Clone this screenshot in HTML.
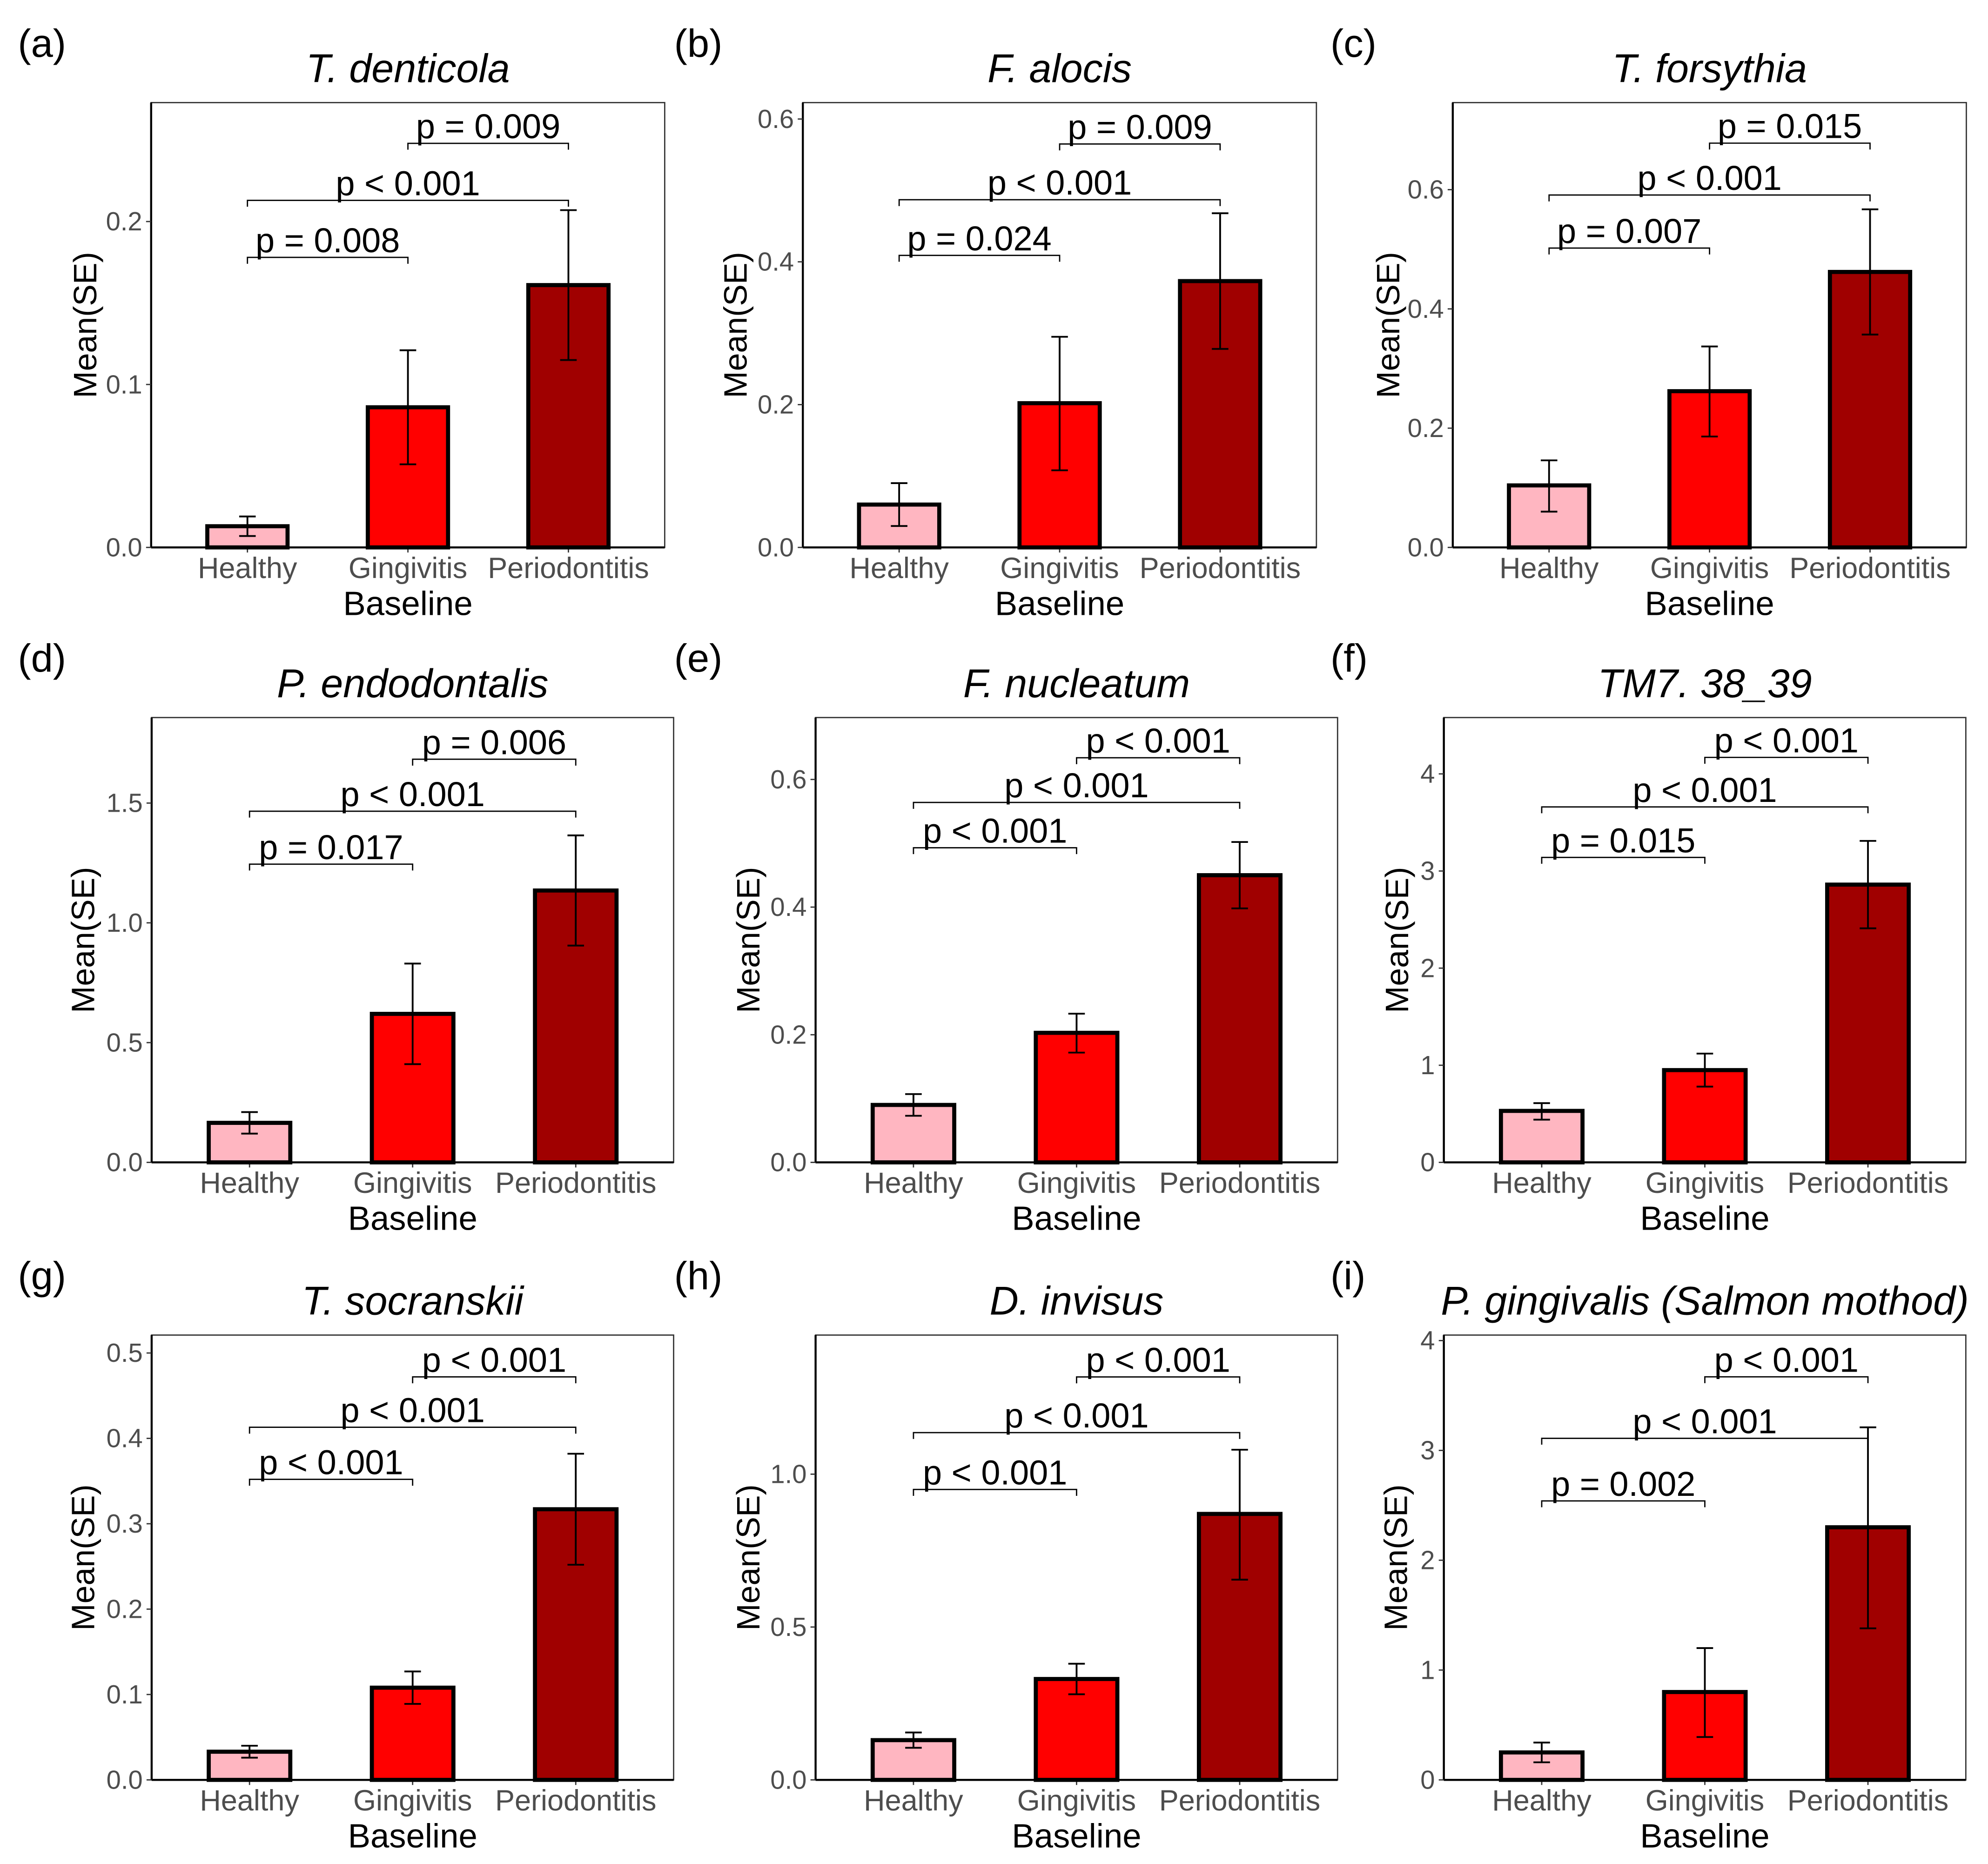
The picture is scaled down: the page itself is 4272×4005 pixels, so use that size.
<!DOCTYPE html>
<html><head><meta charset="utf-8"><style>
html,body{margin:0;padding:0;background:#fff}
svg{display:block}
text{font-family:"Liberation Sans",Arial,sans-serif}
</style></head><body>
<svg id="chart" xmlns="http://www.w3.org/2000/svg" width="4272" height="4005" viewBox="0 0 1560 1462.5" preserveAspectRatio="none"></svg>
<script>
const categories = ["Healthy","Gingivitis","Periodontitis"];
const colors = ["#ffb6c1","#ff0000","#a00000"];
const panelLabels = ["(a)","(b)","(c)","(d)","(e)","(f)","(g)","(h)","(i)"];
const titles = ["T. denticola","F. alocis","T. forsythia","P. endodontalis","F. nucleatum","TM7. 38_39","T. socranskii","D. invisus","P. gingivalis (Salmon mothod)"];
const means = [[0.013,0.086,0.161],[0.06,0.202,0.373],[0.104,0.262,0.462],[0.165,0.62,1.135],[0.09,0.203,0.45],[0.53,0.95,2.86],[0.033,0.108,0.317],[0.13,0.33,0.87],[0.25,0.8,2.3]];
const errLow = [[0.007,0.051,0.115],[0.03,0.108,0.278],[0.06,0.186,0.357],[0.12,0.41,0.905],[0.073,0.172,0.398],[0.44,0.78,2.41],[0.026,0.089,0.252],[0.105,0.28,0.655],[0.16,0.39,1.38]];
const errHigh = [[0.019,0.121,0.207],[0.09,0.295,0.468],[0.146,0.337,0.567],[0.21,0.83,1.365],[0.107,0.233,0.502],[0.61,1.12,3.31],[0.04,0.127,0.382],[0.155,0.38,1.08],[0.34,1.2,3.21]];
const yMax = [0.273,0.623,0.746,1.857,0.697,4.58,0.521,1.455,4.05];
const tickValues = [[0,0.1,0.2],[0,0.2,0.4,0.6],[0,0.2,0.4,0.6],[0,0.5,1,1.5],[0,0.2,0.4,0.6],[0,1,2,3,4],[0,0.1,0.2,0.3,0.4,0.5],[0,0.5,1],[0,1,2,3,4]];
const tickLabels = [["0.0","0.1","0.2"],["0.0","0.2","0.4","0.6"],["0.0","0.2","0.4","0.6"],["0.0","0.5","1.0","1.5"],["0.0","0.2","0.4","0.6"],["0","1","2","3","4"],["0.0","0.1","0.2","0.3","0.4","0.5"],["0.0","0.5","1.0"],["0","1","2","3","4"]];
const bracketY = [[0.178,0.213,0.248],[0.409,0.487,0.565],[0.502,0.591,0.678],[1.245,1.466,1.683],[0.493,0.564,0.634],[3.14,3.66,4.17],[0.352,0.413,0.472],[0.95,1.136,1.318],[2.54,3.11,3.67]];
const pLabels = [["p = 0.008","p < 0.001","p = 0.009"],["p = 0.024","p < 0.001","p = 0.009"],["p = 0.007","p < 0.001","p = 0.015"],["p = 0.017","p < 0.001","p = 0.006"],["p < 0.001","p < 0.001","p < 0.001"],["p = 0.015","p < 0.001","p < 0.001"],["p < 0.001","p < 0.001","p < 0.001"],["p < 0.001","p < 0.001","p < 0.001"],["p = 0.002","p < 0.001","p < 0.001"]];
const bracketPairs = [[0,1],[0,2],[1,2]];

const layout = [
 {x:118.6,w:403,yt:80.5,lab:52},{x:630,w:403,yt:80.5,lab:53},{x:1140,w:403,yt:80.5,lab:51},
 {x:119,w:409.6,yt:563,lab:54},{x:640,w:409.6,yt:563,lab:53},{x:1133,w:409.6,yt:563,lab:37},
 {x:119,w:409.6,yt:1047.5,lab:54},{x:640,w:409.6,yt:1047.5,lab:53},{x:1133,w:409.6,yt:1047.5,lab:38}
];
const H = 349;
const svg = document.getElementById('chart');
const NS = "http://www.w3.org/2000/svg";
function mk(tag, attrs, parent){const e=document.createElementNS(NS,tag);for(const k in attrs)e.setAttribute(k,attrs[k]);parent.appendChild(e);return e;}

for(let p=0;p<9;p++){
  const L = layout[p];
  const g = mk('g',{},svg);
  
  
  const x = i => L.x + (i+0.6)*L.w/3.2;
  const bw = 0.5*L.w/3.2;
  const y = v => L.yt + H - v/yMax[p]*H;
  const y0 = L.yt+H;
  const pl = mk('text',{x:p%3===0?14:(p%3===1?529:1044),y:L.yt-36,'font-size':31,fill:'#000'},g);
  pl.textContent = panelLabels[p];
  
  
  const t = mk('text',{x:L.x+L.w/2,y:L.yt-16,'font-size':31.5,'font-style':'italic','text-anchor':'middle',fill:'#000'},g);
  t.textContent = titles[p];
  
  
  const box = mk('rect',{x:L.x,y:L.yt,width:L.w,height:H,fill:'none',stroke:'#333',"stroke-width":1},g);
  
  
  mk('line',{x1:L.x,y1:y0,x2:L.x+L.w,y2:y0,stroke:'#000','stroke-width':1.6},g);
  mk('line',{x1:L.x,y1:L.yt,x2:L.x,y2:y0,stroke:'#000','stroke-width':1.6},g);
  tickValues[p].forEach((v,k)=>{
    mk('line',{x1:L.x-4,y1:y(v),x2:L.x,y2:y(v),stroke:'#333','stroke-width':1},g);
    const tl = mk('text',{x:L.x-7,y:y(v)+7,'font-size':20.5,'text-anchor':'end',fill:'#4d4d4d'},g);
    tl.textContent = tickLabels[p][k];
    
    
  });
  const yt = mk('text',{x:0,y:0,'font-size':25.5,'text-anchor':'middle',fill:'#000',transform:`translate(${L.x-L.lab+9},${L.yt+H/2}) rotate(-90)`},g);
  yt.textContent = 'Mean(SE)';
  
  
  const xt = mk('text',{x:L.x+L.w/2,y:y0+53,'font-size':26.5,'text-anchor':'middle',fill:'#000'},g);
  xt.textContent = 'Baseline';
  
  
  categories.forEach((c,i)=>{
    mk('line',{x1:x(i),y1:y0,x2:x(i),y2:y0+4,stroke:'#333','stroke-width':1},g);
    const xl = mk('text',{x:x(i),y:y0+24,'font-size':23,'text-anchor':'middle',fill:'#4d4d4d'},g);
    xl.textContent = c;
    
    
    const b = mk('rect',{x:x(i)-bw/2,y:y(means[p][i]),width:bw,height:y0-y(means[p][i]),fill:colors[i],stroke:'#000','stroke-width':3.2},g);
    
    
    const eg = mk('g',{stroke:'#000','stroke-width':1.4},g);
    
    
    mk('line',{x1:x(i),y1:y(errLow[p][i]),x2:x(i),y2:y(errHigh[p][i])},eg);
    mk('line',{x1:x(i)-6.5,y1:y(errLow[p][i]),x2:x(i)+6.5,y2:y(errLow[p][i])},eg);
    mk('line',{x1:x(i)-6.5,y1:y(errHigh[p][i]),x2:x(i)+6.5,y2:y(errHigh[p][i])},eg);
  });
  bracketPairs.forEach((pr,k)=>{
    const by = y(bracketY[p][k]);
    const bg = mk('g',{},g);
    
    
    mk('path',{d:`M${x(pr[0])},${by+5}V${by}H${x(pr[1])}V${by+5}`,fill:'none',stroke:'#000','stroke-width':1},bg);
    const tx = mk('text',{x:(x(pr[0])+x(pr[1]))/2,y:by-4,'font-size':27,'text-anchor':'middle',fill:'#000'},bg);
    tx.textContent = pLabels[p][k];
  });
}
</script>
</body></html>
